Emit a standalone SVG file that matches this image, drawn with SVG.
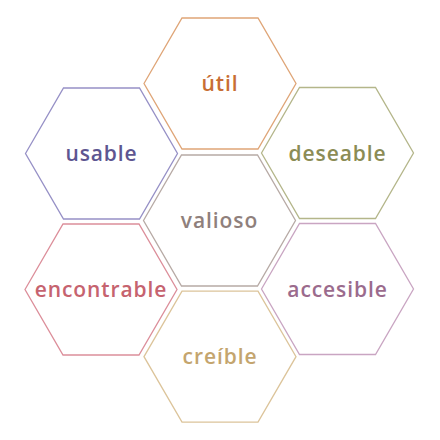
<svg xmlns="http://www.w3.org/2000/svg" xmlns:xlink="http://www.w3.org/1999/xlink" width="440" height="440" viewBox="0 0 440 440">
  <style>
    .hex { fill: #ffffff; stroke-width: 1.3; }
    .lbl { font-family: "Open Sans", "DejaVu Sans", sans-serif; font-size: 21px; font-weight: 600; text-anchor: middle; letter-spacing: 0.9px; }
  </style>
  <defs>
    <!-- flat-topped hexagon centred on the origin -->
    <polygon id="hex" points="-76,0 -38,-65.5 38,-65.5 76,0 38,65.5 -38,65.5"/>
  </defs>
  <rect width="440" height="440" fill="#ffffff"/>
  <g id="connectors"></g>

  <g id="util" transform="translate(220,83.5)">
    <use xlink:href="#hex" class="hex" stroke="#dfa577"/>
    <text class="lbl" x="0" y="7.5" fill="#c86e34">útil</text>
  </g>
  <g id="usable" transform="translate(101.5,153.5)">
    <use xlink:href="#hex" class="hex" stroke="#9690c6"/>
    <text class="lbl" x="0" y="7.5" fill="#5e5691">usable</text>
  </g>
  <g id="deseable" transform="translate(337.5,153)">
    <use xlink:href="#hex" class="hex" stroke="#b4b68a"/>
    <text class="lbl" x="0" y="7.5" fill="#8b8c55">deseable</text>
  </g>
  <g id="valioso" transform="translate(219.5,220.5)">
    <use xlink:href="#hex" class="hex" stroke="#b7aaa5"/>
    <text class="lbl" x="0" y="7.5" fill="#8f807c">valioso</text>
  </g>
  <g id="encontrable" transform="translate(101,289.5)">
    <use xlink:href="#hex" class="hex" stroke="#dc8e9a"/>
    <text class="lbl" x="0" y="7.5" fill="#c6636f">encontrable</text>
  </g>
  <g id="accesible" transform="translate(337.5,289)">
    <use xlink:href="#hex" class="hex" stroke="#c9a5c2"/>
    <text class="lbl" x="0" y="7.5" fill="#9b6b8d">accesible</text>
  </g>
  <g id="creible" transform="translate(220,356.7)">
    <use xlink:href="#hex" class="hex" stroke="#dcc49a"/>
    <text class="lbl" x="0" y="7.5" fill="#c4a56e">creíble</text>
  </g>
</svg>
